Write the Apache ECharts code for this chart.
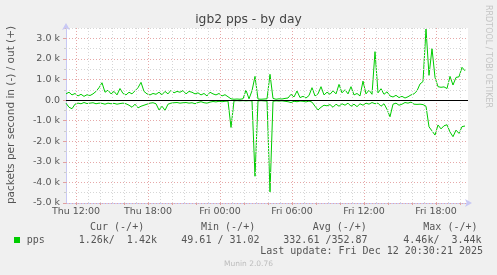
<!DOCTYPE html>
<html><head><meta charset="utf-8">
<script src="https://cdn.jsdelivr.net/npm/echarts@6/dist/echarts.min.js"></script>
<style>html,body{margin:0;padding:0;background:#f0f0f0}#c{width:497px;height:275px}</style>
</head><body><div id="c"></div><script>
const chartTitle = 'igb2 pps - by day';
const yAxisName = 'packets per second in (-) / out (+)';
const sideText = 'RRDTOOL / TOBI OETIKER';
// hours since Thu 00:00
const startHour = 11 + 10 / 60;
const stepHours = 0.25;
const xMinHour = 11 + 10 / 60;
const xMaxHour = 44 + 40 / 60;
const xTickHours = [12, 18, 24, 30, 36, 42];
const xTickLabels = ['Thu 12:00', 'Thu 18:00', 'Fri 00:00', 'Fri 06:00', 'Fri 12:00', 'Fri 18:00'];
const yMin = -5000, yMax = 3500;

// out (+), packets per second
const outValues = [
 300,380,250,320,200,280,180,260,220,300,420,600,840,380,480,300,420,250,560,320,
 250,380,300,450,600,860,420,300,250,320,280,380,260,420,300,480,350,420,380,460,
 300,420,380,300,350,250,320,200,380,300,250,320,200,260,160,60,40,50,40,60,
 480,60,450,1150,50,40,50,60,1250,80,40,60,50,80,100,280,150,440,120,180,
 100,220,600,200,300,650,250,380,280,450,300,760,350,500,300,650,250,320,200,920,
 300,480,280,2350,350,550,280,400,200,150,230,120,180,100,160,250,300,450,780,900,
 3450,1200,2500,1100,650,620,640,560,1150,730,1100,1130,1590,1420
];
// in (-), packets per second (drawn below zero)
const inValues = [
 150,350,420,200,150,180,120,170,150,130,180,150,160,200,150,180,160,200,170,150,
 180,250,350,200,380,300,250,200,150,130,180,480,300,500,200,150,130,120,150,130,
 120,150,130,180,120,80,130,150,100,70,90,60,80,60,50,1330,40,30,40,30,
 40,30,40,3700,40,30,40,50,4460,60,40,50,40,60,80,120,60,80,50,60,
 90,50,100,300,480,350,250,280,220,350,200,300,180,250,150,300,200,320,180,250,
 150,200,120,180,150,300,180,450,810,200,150,250,200,120,150,100,200,210,200,220,
 300,1300,1500,1700,1210,1400,1250,1200,1550,1780,1460,1620,1290,1260
];

const legendHeaders = ['Cur (-/+)', 'Min (-/+)', 'Avg (-/+)', 'Max (-/+)'];
const legendSeriesName = 'pps';
const legendValues = ['1.26k/  1.42k', '49.61 / 31.02', '332.61 /352.87', '4.46k/  3.44k'];
const lastUpdate = 'Last update: Fri Dec 12 20:30:21 2025';
const footer = 'Munin 2.0.76';

const hourAt = i => startHour + i * stepHours;
const outData = outValues.map((v, i) => [hourAt(i), v]);
const inData = inValues.map((v, i) => [hourAt(i), -v]);

const minorColor = '#d6d6d6', majorColor = '#e6a8a8';
const minorLines = [], majorLines = [];
for (let h = 12; h <= 44; h++) {
  (xTickHours.includes(h) ? majorLines : minorLines).push({ xAxis: h });
}
for (let v = yMin; v <= yMax; v += 500) {
  if (v === 0) continue;
  (v % 1000 === 0 ? majorLines : minorLines).push({ yAxis: v });
}
const tickHours2h = [];
for (let h = 12; h <= 44; h += 2) tickHours2h.push(h);

const green = '#00cc00';
const mono = '"DejaVu Sans Mono", monospace';
const sans = '"DejaVu Sans", sans-serif';
const txtCol = '#555';

const chart = echarts.init(document.getElementById('c'), null, { renderer: 'canvas' });
const gridLineSeries = (name, lines, color, z) => ({
  name, type: 'line', data: [], z, silent: true,
  markLine: { silent: true, symbol: 'none', animation: false, label: { show: false },
    lineStyle: { color, width: 1, type: [1, 2] }, data: lines }
});

const colX = [90, 201, 312.7, 423.3];
const valX = [78.7, 181.3, 283.3, 403.3];
const graphics = [
  { type: 'text', x: 248.5, y: 20, style: { text: chartTitle, font: '12.3px ' + sans, fill: '#444', align: 'center', verticalAlign: 'middle' } },
  { type: 'text', x: 11, y: 115, rotation: Math.PI / 2, style: { text: yAxisName, font: '10.5px ' + sans, fill: txtCol, align: 'center', verticalAlign: 'middle' } },
  { type: 'text', x: 488, y: 5, rotation: -Math.PI / 2, style: { text: sideText, font: '8px ' + sans, fill: '#c4c4c4', align: 'left', verticalAlign: 'middle' } },
  { type: 'rect', shape: { x: 14, y: 237, width: 6, height: 6 }, style: { fill: green } },
  { type: 'text', x: 26.7, y: 240, style: { text: legendSeriesName, font: '10px ' + mono, fill: txtCol, verticalAlign: 'middle' } },
  { type: 'text', x: 483, y: 251.7, style: { text: lastUpdate, font: '10px ' + mono, fill: txtCol, align: 'right', verticalAlign: 'middle' } },
  { type: 'text', x: 248.5, y: 264, style: { text: footer, font: '7.5px ' + sans, fill: '#bcbcbc', align: 'center', verticalAlign: 'middle' } }
];
legendHeaders.forEach((t, k) => graphics.push({ type: 'text', x: colX[k], y: 227.7, style: { text: t, font: '10px ' + mono, fill: txtCol, verticalAlign: 'middle' } }));
legendValues.forEach((t, k) => graphics.push({ type: 'text', x: valX[k], y: 240, style: { text: t, font: '10px ' + mono, fill: txtCol, verticalAlign: 'middle' } }));

chart.setOption({
  animation: false,
  backgroundColor: '#f0f0f0',
  grid: { left: 66, top: 28, width: 402, height: 175, show: true, backgroundColor: '#ffffff', borderWidth: 0 },
  xAxis: {
    type: 'value', min: xMinHour, max: xMaxHour,
    axisLine: { show: true, onZero: false, lineStyle: { color: '#c8c8f4', width: 1 }, symbol: ['none', 'arrow'], symbolSize: [6, 7], symbolOffset: [0, 4] },
    axisTick: { show: true, customValues: tickHours2h, length: 2, lineStyle: { color: '#e0a0a0' } },
    axisLabel: { customValues: xTickHours, formatter: v => xTickLabels[xTickHours.indexOf(Math.round(v))] || '', color: txtCol, fontFamily: sans, fontSize: 9.5, margin: 4 },
    splitLine: { show: false }
  },
  yAxis: {
    type: 'value', min: yMin, max: yMax, interval: 1000,
    axisLine: { show: true, lineStyle: { color: '#c8c8f4', width: 1 }, symbol: ['none', 'arrow'], symbolSize: [6, 7], symbolOffset: [0, 5] },
    axisTick: { show: true, length: 3, lineStyle: { color: '#e0a0a0' } },
    minorTick: { show: true, splitNumber: 2, length: 2, lineStyle: { color: '#cccccc' } },
    axisLabel: { formatter: v => (v % 1000 !== 0 ? '' : (v === 0 ? '0.0' : (v / 1000).toFixed(1) + ' k')), color: txtCol, fontFamily: sans, fontSize: 9.5, margin: 6 },
    splitLine: { show: false }
  },
  series: [
    gridLineSeries('minor', minorLines, minorColor, 1),
    gridLineSeries('major', majorLines, majorColor, 2),
    { name: 'out', type: 'line', data: outData, showSymbol: false, z: 3, lineStyle: { color: green, width: 1 }, itemStyle: { color: green } },
    { name: 'in', type: 'line', data: inData, showSymbol: false, z: 3, lineStyle: { color: green, width: 1 }, itemStyle: { color: green } },
    { name: 'zero', type: 'line', data: [], z: 4, silent: true,
      markLine: { silent: true, symbol: 'none', label: { show: false }, lineStyle: { color: '#000', width: 1.2, type: 'solid' }, data: [{ yAxis: 0 }] } }
  ],
  graphic: graphics
});
</script></body></html>
